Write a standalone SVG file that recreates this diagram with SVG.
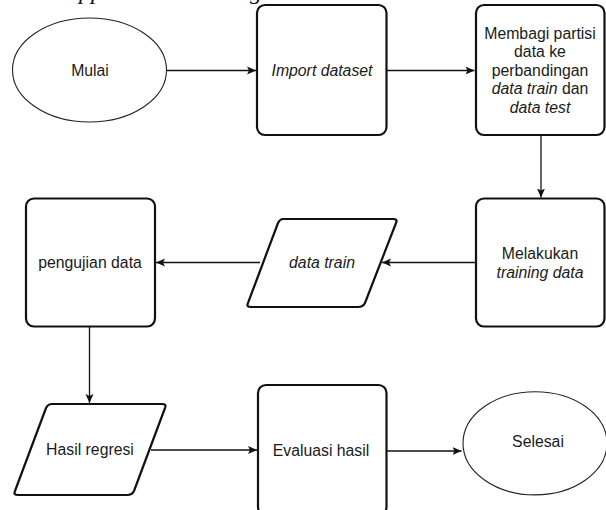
<svg xmlns="http://www.w3.org/2000/svg" width="606" height="510" viewBox="0 0 606 510">
<defs>
<style>
.box{fill:#fff;stroke:#111;stroke-width:2.2}
.ell{fill:#fff;stroke:#222;stroke-width:1.1}
.t{font-family:"Liberation Sans",Arial,sans-serif;font-size:15.8px;fill:#1a1a1a;text-anchor:middle}
.i{font-style:italic}
.cap{font-family:"Liberation Serif","Times New Roman",serif;font-style:italic;font-size:24px;fill:#111}
.con{fill:none;stroke:#111;stroke-width:1.3}
</style>
<marker id="arr" markerWidth="10" markerHeight="10" refX="9" refY="5" orient="auto" markerUnits="userSpaceOnUse">
<path d="M0,1 L9,5 L0,9 L2,5 Z" fill="#111"/>
</marker>
</defs>
<rect width="606" height="510" fill="#fff"/>
<text class="cap" x="79" y="-1">pp</text>
<text class="cap" x="250" y="-1">g</text>

<g id="connectors">
<line class="con" x1="167" y1="70.5" x2="256" y2="70.5" marker-end="url(#arr)"/>
<line class="con" x1="387" y1="70.5" x2="474.5" y2="70.5" marker-end="url(#arr)"/>
<line class="con" x1="541" y1="135" x2="541" y2="197.5" marker-end="url(#arr)"/>
<line class="con" x1="475" y1="262.5" x2="382" y2="262.5" marker-end="url(#arr)"/>
<line class="con" x1="260" y1="262.5" x2="156" y2="262.5" marker-end="url(#arr)"/>
<line class="con" x1="89.5" y1="327" x2="89.5" y2="403" marker-end="url(#arr)"/>
<line class="con" x1="151" y1="450" x2="257" y2="450" marker-end="url(#arr)"/>
<line class="con" x1="387" y1="451" x2="461.5" y2="451" marker-end="url(#arr)"/>
</g>

<g id="mulai">
<ellipse class="ell" cx="89.5" cy="70" rx="77" ry="52"/>
<text class="t" x="90" y="75.5">Mulai</text>
</g>
<g id="import">
<rect class="box" x="257" y="5" width="129.5" height="130" rx="8"/>
<text class="t i" x="322" y="76">Import dataset</text>
</g>
<g id="membagi">
<rect class="box" x="476" y="5" width="128.5" height="130" rx="8"/>
<text class="t" x="540" y="38.5">Membagi partisi</text>
<text class="t" x="540" y="57">data ke</text>
<text class="t" x="540" y="75.5">perbandingan</text>
<text class="t" x="540" y="94"><tspan class="i">data train</tspan> dan</text>
<text class="t i" x="540" y="112.5">data test</text>
</g>
<g id="melakukan">
<rect class="box" x="476" y="198.5" width="128.5" height="128" rx="8"/>
<text class="t" x="540" y="258.5">Melakukan</text>
<text class="t i" x="540" y="278">training data</text>
</g>
<g id="datatrain">
<path class="box" d="M283,219 L393,219 Q398,219 396,223 L365,303 Q363,307 358,307 L251,307 Q246,307 248,303 L278,223 Q280,219 283,219 Z"/>
<text class="t i" x="322" y="268">data train</text>
</g>
<g id="pengujian">
<rect class="box" x="26" y="198.5" width="129" height="128" rx="8"/>
<text class="t" x="90" y="268">pengujian data</text>
</g>
<g id="hasil">
<path class="box" d="M52,404 L162,404 Q167,404 165,408 L134,491 Q132,495 127,495 L18,495 Q13,495 15,491 L46,408 Q48,404 52,404 Z"/>
<text class="t" x="90" y="455">Hasil regresi</text>
</g>
<g id="evaluasi">
<rect class="box" x="258" y="385" width="128.5" height="130" rx="8"/>
<text class="t" x="321" y="455.5">Evaluasi hasil</text>
</g>
<g id="selesai">
<ellipse class="ell" cx="535" cy="443.3" rx="72" ry="51.6"/>
<text class="t" x="538" y="447">Selesai</text>
</g>
</svg>
